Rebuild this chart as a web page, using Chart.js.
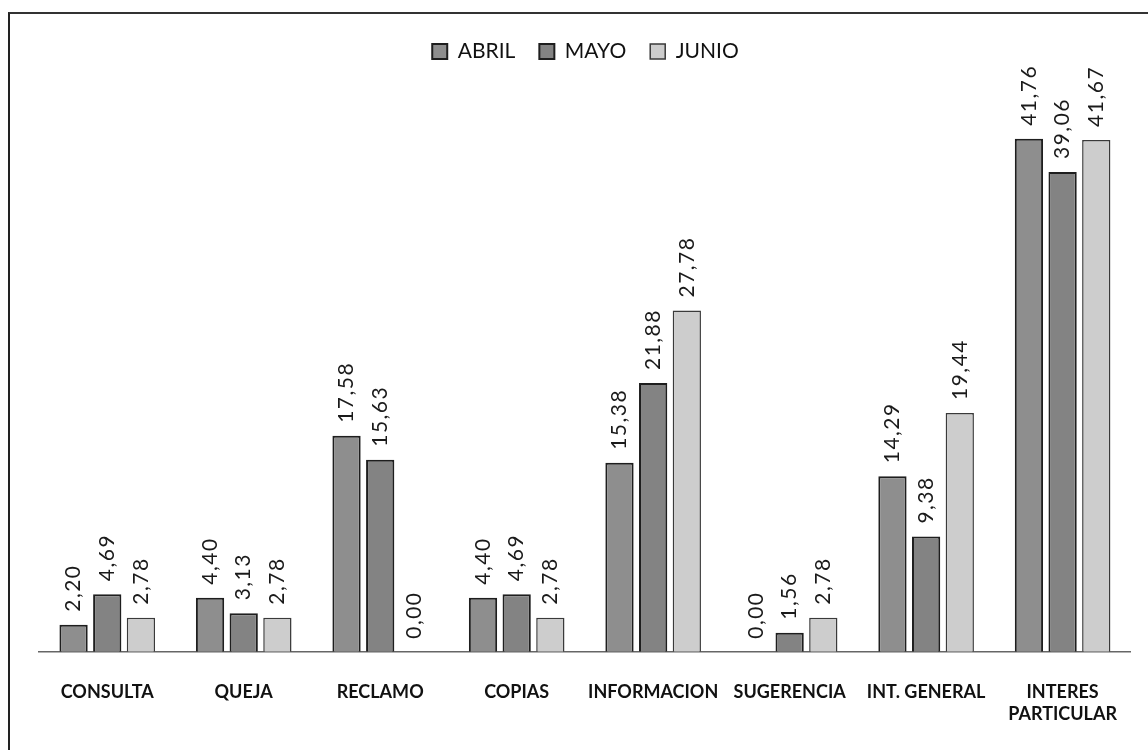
<!DOCTYPE html>
<html>
<head>
<meta charset="utf-8">
<script src="https://cdn.jsdelivr.net/npm/chart.js@4"></script>
<style>
  body { margin: 0; background: #fff; }
  #marco { position: absolute; left: 8px; top: 12px; width: 1140px; height: 738px; border-left: 2px solid #222; border-top: 2px solid #333; }
  #miGrafica { position: absolute; left: 0; top: 0; }
</style>
</head>
<body>
<div id="marco"></div>
<canvas id="miGrafica" width="1148" height="750"></canvas>
<script>
const categorias = ["CONSULTA", "QUEJA", "RECLAMO", "COPIAS", "INFORMACION", "SUGERENCIA", "INT. GENERAL", ["INTERES", "PARTICULAR"]];
const abril = [2.20, 4.40, 17.58, 4.40, 15.38, 0.00, 14.29, 41.76];
const mayo = [4.69, 3.13, 15.63, 4.69, 21.88, 1.56, 9.38, 39.06];
const junio = [2.78, 2.78, 0.00, 2.78, 27.78, 2.78, 19.44, 41.67];

Chart.defaults.font.family = "Lato, 'Liberation Sans', sans-serif";
Chart.defaults.color = "#111";

// etiquetas de valor giradas sobre cada barra
const etiquetasValor = {
  id: "etiquetasValor",
  afterDatasetsDraw(chart) {
    const ctx = chart.ctx;
    ctx.save();
    ctx.font = "21px Lato, 'Liberation Sans', sans-serif";
    ctx.letterSpacing = "1.5px";
    ctx.fillStyle = "#1a1a1a";
    ctx.textAlign = "left";
    ctx.textBaseline = "middle";
    chart.data.datasets.forEach((ds, i) => {
      chart.getDatasetMeta(i).data.forEach((bar, j) => {
        const texto = ds.data[j].toFixed(2).replace(".", ",");
        ctx.save();
        ctx.translate(bar.x, bar.y - 13);
        ctx.rotate(-Math.PI / 2);
        ctx.fillText(texto, 0, 0);
        ctx.restore();
      });
    });
    ctx.restore();
  },
};

const config = {
  type: "bar",
  data: {
    labels: categorias,
    datasets: [
      { label: "ABRIL", data: abril, backgroundColor: "#8e8e8e", borderColor: "#1e1e1e", borderWidth: 2 },
      { label: "MAYO", data: mayo, backgroundColor: "#838383", borderColor: "#1e1e1e", borderWidth: 2 },
      { label: "JUNIO", data: junio, backgroundColor: "#cdcdcd", borderColor: "#3a3a3a", borderWidth: 1.5 },
    ],
  },
  options: {
    responsive: false,
    animation: false,
    categoryPercentage: 0.74,
    barPercentage: 0.84,
    layout: { padding: { top: 17, left: 39, right: 16, bottom: -5 } },
    plugins: {
      tooltip: { enabled: false },
      legend: {
        position: "top",
        labels: { boxWidth: 15, boxHeight: 15, padding: 24, font: { size: 21 }, color: "#111" },
      },
    },
    scales: {
      x: {
        grid: { display: false, drawTicks: false },
        border: { display: true, color: "#666", width: 1.5 },
        ticks: { padding: 30, font: { size: 18, weight: "bold" }, color: "#111", maxRotation: 0, autoSkip: false },
      },
      y: {
        display: false,
        min: 0,
        max: 47.2,
      },
    },
  },
  plugins: [etiquetasValor],
};

new Chart(document.getElementById("miGrafica"), config);
</script>
</body>
</html>
